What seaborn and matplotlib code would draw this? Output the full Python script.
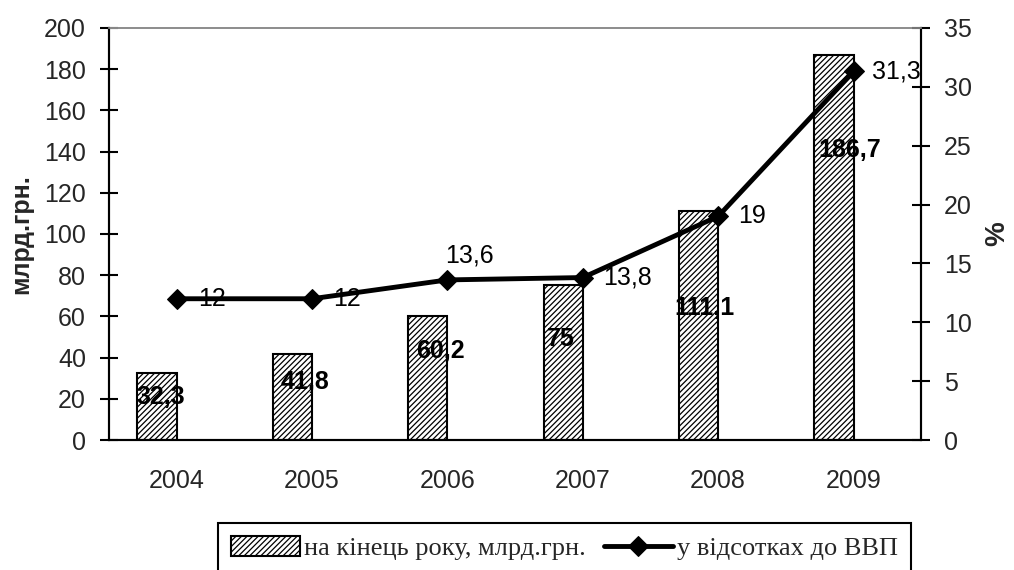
import matplotlib
matplotlib.use("Agg")
import matplotlib.pyplot as plt
from matplotlib.ticker import FixedLocator, NullFormatter
import seaborn as sns
import numpy as np

# дані
roky = ["2004", "2005", "2006", "2007", "2008", "2009"]
borh_mlrd = [32.3, 41.8, 60.2, 75, 111.1, 186.7]
vidsotok_vvp = [12, 12, 13.6, 13.8, 19, 31.3]
mitky_bar = ["32,3", "41,8", "60,2", "75", "111,1", "186,7"]
mitky_line = ["12", "12", "13,6", "13,8", "19", "31,3"]

# розміщення підписів стовпчиків (як на вихідному рисунку)
bar_lab_y = [21, 28, 43, 49, 64, 141]
bar_lab_dx = [-0.12, -0.05, -0.05, -0.16, -0.10, -0.03]

sns.set_theme(style="white")
plt.rcParams['font.family'] = ['Liberation Sans', 'DejaVu Sans']
plt.rcParams['hatch.color'] = '#7a7a7a'
plt.rcParams['hatch.linewidth'] = 0.9

fig = plt.figure(figsize=(10.14, 5.70), dpi=100)
ax = fig.add_axes([0.1075, 0.228, 0.801, 0.723])

x = np.arange(len(roky))
sns.barplot(x=x, y=borh_mlrd, ax=ax, color="white", edgecolor="black",
            linewidth=1.5, hatch="//////", label="на кінець року, млрд.грн.")
if ax.get_legend() is not None:
    ax.get_legend().remove()

# стовпчики зсунуті вліво від центру категорії (як в Excel)
sirina = 0.29
for p, xi in zip(ax.patches, x):
    p.set_x(xi - sirina)
    p.set_width(sirina)

for xi, t, ly, dx in zip(x, mitky_bar, bar_lab_y, bar_lab_dx):
    ax.text(xi + dx, ly, t, ha="center", va="center",
            fontsize=18, fontweight="bold", color="black")

ax.set_xlim(-0.5, len(roky) - 0.5)
ax.set_ylim(0, 200)
ax.set_yticks(np.arange(0, 201, 20))
ax.set_xticks(x)
ax.set_xticklabels(roky)
ax.xaxis.set_minor_locator(FixedLocator(np.arange(-0.5, len(roky), 1)))
ax.xaxis.set_minor_formatter(NullFormatter())
ax.tick_params(axis="x", which="major", length=0, pad=21, labelsize=18)
ax.tick_params(axis="x", which="minor", direction="inout", length=13,
               width=1.5, color="black")
ax.tick_params(axis="y", direction="inout", length=13, width=1.5,
               color="black", labelsize=18, pad=10, left=True)
ax.set_ylabel("млрд.грн.", fontsize=18, fontweight="bold", labelpad=8)
ax.set_xlabel("")

ax2 = ax.twinx()
sns.lineplot(x=x, y=vidsotok_vvp, ax=ax2, color="black", linewidth=3.5,
             marker="D", markersize=10, markeredgecolor="black",
             label="у відсотках до ВВП", legend=False)
ax2.set_ylim(0, 35)
ax2.set_yticks(np.arange(0, 36, 5))
ax2.tick_params(axis="y", direction="inout", length=13, width=1.5,
                color="black", labelsize=18, pad=10, right=True)
ax2.set_ylabel("%", fontsize=20, fontweight="bold", labelpad=9)

zsuvy = [(21, 0), (21, 0), (22, 24), (20, 0), (20, 0), (18, 0)]
for xi, v, t, (dx, dy) in zip(x, vidsotok_vvp, mitky_line, zsuvy):
    ax2.annotate(t, (xi, v), xytext=(dx, dy), textcoords="offset pixels",
                 ha="left" if dy == 0 else "center", va="center",
                 fontsize=18, color="black")

for a in (ax, ax2):
    for s in ("left", "right", "bottom"):
        a.spines[s].set_color("black")
        a.spines[s].set_linewidth(1.5)
    a.spines["top"].set_color("#8c8c8c")
    a.spines["top"].set_linewidth(1.2)
ax.yaxis.set_ticks_position("left")
ax2.yaxis.set_ticks_position("right")

h1, l1 = ax.get_legend_handles_labels()
h2, l2 = ax2.get_legend_handles_labels()
leg = fig.legend(h1[:1] + h2, l1[:1] + l2, loc="upper left",
                 bbox_to_anchor=(0.215, 0.083), ncol=2, frameon=True,
                 fancybox=False, edgecolor="black", framealpha=1,
                 prop={"family": "Liberation Serif", "size": 19},
                 handlelength=2.6, handleheight=0.8, handletextpad=0.15,
                 columnspacing=0.7, borderpad=0.5, borderaxespad=0)
leg.get_frame().set_linewidth(1.5)

fig.savefig("out.png", dpi=100)
